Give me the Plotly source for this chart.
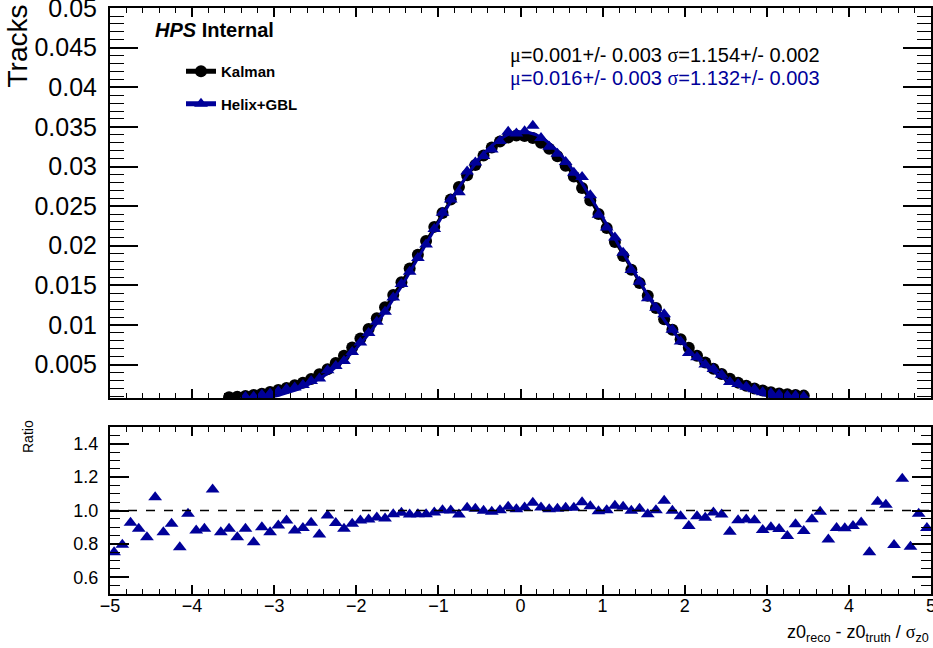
import numpy as np
from plotly.subplots import make_subplots
import plotly.graph_objects as go

# Dados (bins de 0.1)
x_kal = [-3.55, -3.45, -3.35, -3.25, -3.15, -3.05, -2.95, -2.85, -2.75, -2.65, -2.55, -2.45, -2.35, -2.25,
         -2.15, -2.05, -1.95, -1.85, -1.75, -1.65, -1.55, -1.45, -1.35, -1.25, -1.15, -1.05, -0.95, -0.85,
         -0.75, -0.65, -0.55, -0.45, -0.35, -0.25, -0.15, -0.05, 0.05, 0.15, 0.25, 0.35, 0.45, 0.55, 0.65,
         0.75, 0.85, 0.95, 1.05, 1.15, 1.25, 1.35, 1.45, 1.55, 1.65, 1.75, 1.85, 1.95, 2.05, 2.15, 2.25,
         2.35, 2.45, 2.55, 2.65, 2.75, 2.85, 2.95, 3.05, 3.15, 3.25, 3.35, 3.45]
y_kal = [0.00088, 0.00094, 0.00103, 0.00116, 0.00132, 0.00155, 0.00178, 0.00205, 0.00238, 0.00270, 0.00318,
         0.00378, 0.00440, 0.00520, 0.00612, 0.00715, 0.00828, 0.00950, 0.01085, 0.01225, 0.01378, 0.01540,
         0.01712, 0.01885, 0.02060, 0.02238, 0.02412, 0.02585, 0.02742, 0.02890, 0.03020, 0.03140, 0.03240,
         0.03315, 0.03365, 0.03390, 0.03385, 0.03360, 0.03300, 0.03225, 0.03130, 0.03010, 0.02875, 0.02730,
         0.02570, 0.02400, 0.02225, 0.02048, 0.01870, 0.01698, 0.01530, 0.01368, 0.01215, 0.01072, 0.00940,
         0.00820, 0.00712, 0.00612, 0.00525, 0.00448, 0.00382, 0.00322, 0.00272, 0.00232, 0.00198, 0.00172,
         0.00152, 0.00136, 0.00124, 0.00115, 0.00108]

x_gbl = x_kal[2:]
y_gbl = [0.00092, 0.00094, 0.00119, 0.00135, 0.00162, 0.00193, 0.00209, 0.00242, 0.00294, 0.00324, 0.00427,
         0.00481, 0.00545, 0.00658, 0.00778, 0.00899, 0.01039, 0.01166, 0.01348, 0.01518, 0.01671, 0.01844,
         0.02015, 0.02211, 0.02417, 0.02585, 0.02676, 0.02936, 0.03050, 0.03134, 0.03214, 0.03322, 0.03439,
         0.03417, 0.03446, 0.03515, 0.03359, 0.03251, 0.03161, 0.03058, 0.02921, 0.02867, 0.02637, 0.02390,
         0.02229, 0.02105, 0.01911, 0.01695, 0.01545, 0.01338, 0.01217, 0.01134, 0.00938, 0.00792, 0.00646,
         0.00591, 0.00502, 0.00443, 0.00373, 0.00281, 0.00256, 0.00219, 0.00187, 0.00152, 0.00137, 0.00121,
         0.00105, 0.00106, 0.00095]

x_ratio = [round(-4.95 + 0.1*i, 2) for i in range(100)]
y_ratio = [0.750, 0.795, 0.926, 0.890, 0.840, 1.080, 0.870, 0.920, 0.780, 0.980,
           0.880, 0.890, 1.125, 0.870, 0.890, 0.840, 0.890, 0.810, 0.900, 0.870,
           0.910, 0.940, 0.880, 0.895, 0.926, 0.857, 0.970, 0.925, 0.890, 0.920,
           0.940, 0.946, 0.958, 0.952, 0.978, 0.986, 0.976, 0.978, 0.978, 0.988,
           1.002, 1.000, 0.976, 1.016, 1.010, 0.998, 0.992, 1.002, 1.022, 1.008,
           1.018, 1.046, 1.018, 1.008, 1.010, 1.016, 1.016, 1.050, 1.026, 0.996,
           1.002, 1.028, 1.022, 0.998, 1.010, 0.978, 1.002, 1.058, 0.998, 0.966,
           0.907, 0.966, 0.956, 0.988, 0.976, 0.873, 0.942, 0.946, 0.942, 0.883,
           0.899, 0.889, 0.847, 0.918, 0.877, 0.948, 0.992, 0.827, 0.895, 0.893,
           0.907, 0.928, 0.750, 1.052, 1.034, 0.793, 1.190, 0.783, 0.980, 0.895]

# Ajustes gaussianos (parametros do fit)
fit_kal = dict(mu=0.001, sigma=1.154, amp=0.0338)
fit_gbl = dict(mu=0.016, sigma=1.132, amp=0.0344)
xfit = np.linspace(-3.5, 3.5, 301)

def gauss(x, p):
    return p['amp']*np.exp(-0.5*((x - p['mu'])/p['sigma'])**2)

preto = 'black'
azul = '#000099'
fonte = 'Liberation Sans, Arial, sans-serif'

fig = make_subplots(rows=2, cols=1, shared_xaxes=True)

fig.add_trace(go.Scatter(x=x_kal, y=y_kal, mode='markers', marker=dict(symbol='circle', size=12, color=preto),
                         showlegend=False), row=1, col=1)
fig.add_trace(go.Scatter(x=xfit, y=gauss(xfit, fit_kal), mode='lines', line=dict(color=preto, width=3),
                         showlegend=False), row=1, col=1)
fig.add_trace(go.Scatter(x=x_gbl, y=y_gbl, mode='markers', marker=dict(symbol='triangle-up', size=12, color=azul),
                         showlegend=False), row=1, col=1)
fig.add_trace(go.Scatter(x=xfit, y=gauss(xfit, fit_gbl), mode='lines', line=dict(color=azul, width=3),
                         showlegend=False), row=1, col=1)
# entradas de legenda
fig.add_trace(go.Scatter(x=[None], y=[None], mode='lines+markers', name='<b>Kalman</b>', legendgroup='a',
                         marker=dict(symbol='circle', size=12, color=preto), line=dict(color=preto, width=4)), row=1, col=1)
fig.add_trace(go.Scatter(x=[None], y=[None], mode='lines+markers', name='<b>Helix+GBL</b>', legendgroup='b',
                         marker=dict(symbol='triangle-up', size=12, color=azul), line=dict(color=azul, width=4)), row=1, col=1)

fig.add_trace(go.Scatter(x=x_ratio, y=y_ratio, mode='markers', marker=dict(symbol='triangle-up', size=12, color=azul),
                         showlegend=False), row=2, col=1)

fig.add_shape(type='line', xref='x2', yref='y2', x0=-5, x1=5, y0=1, y1=1,
              line=dict(color='black', width=1.5, dash='dash'))

W, H = 933, 648
xdom = [110/W, 931/W]
eixo_x = dict(range=[-5, 5.0001], dtick=1, tick0=0, ticks='inside', ticklen=9, tickwidth=1.5, tickcolor='black',
              showline=True, linewidth=2, linecolor='black', mirror='ticks', showgrid=False, zeroline=False,
              automargin=False, ticklabeloverflow='allow',
              minor=dict(dtick=0.2, ticks='inside', ticklen=5, tickwidth=1.2, tickcolor='black', showgrid=False),
              domain=xdom)
fig.update_layout(
    xaxis=dict(eixo_x, showticklabels=False),
    xaxis2=dict(eixo_x, tickfont=dict(size=18, color='black'), ticklabelstandoff=-6),
    yaxis=dict(range=[0.00078, 0.05001], dtick=0.005, tick0=0, ticks='inside', ticklen=28, tickwidth=1.5,
               tickcolor='black', showline=True, linewidth=2, linecolor='black', mirror='ticks',
               showgrid=False, zeroline=False, tickfont=dict(size=25, color='black'), ticklabelstandoff=6,
               automargin=False, ticklabeloverflow='allow',
               minor=dict(dtick=0.001, ticks='inside', ticklen=14, tickwidth=1.2, tickcolor='black', showgrid=False),
               domain=[1 - 398/H, 1 - 8/H]),
    yaxis2=dict(range=[0.5, 1.5], dtick=0.2, tick0=0, ticks='inside', ticklen=19, tickwidth=1.5,
                tickcolor='black', showline=True, linewidth=2, linecolor='black', mirror='ticks',
                showgrid=False, zeroline=False, tickformat='.1f', tickfont=dict(size=18, color='black'),
                ticklabelstandoff=6, automargin=False,
                minor=dict(dtick=0.05, ticks='inside', ticklen=10, tickwidth=1.2, tickcolor='black', showgrid=False),
                domain=[1 - 594/H, 1 - 427/H]),
)

fig.update_layout(legend=dict(x=181/W, y=1 - 55/H, xanchor='left', yanchor='top', bgcolor='rgba(0,0,0,0)',
                              font=dict(size=15, color='black', family=fonte), tracegroupgap=10,
                              itemsizing='constant', traceorder='grouped'))

anot = [
    dict(text='<b><i>HPS</i> Internal</b>', x=153/W, y=1 - 30/H, xanchor='left', yanchor='middle',
         font=dict(size=20, color='black')),
    dict(text='<span style="font-family:Liberation Serif">μ</span>=0.001+/- 0.003 '
              '<span style="font-family:Liberation Serif">σ</span>=1.154+/- 0.002',
         x=508/W, y=1 - 56/H, xanchor='left', yanchor='middle', font=dict(size=20, color='black')),
    dict(text='<span style="font-family:Liberation Serif">μ</span>=0.016+/- 0.003 '
              '<span style="font-family:Liberation Serif">σ</span>=1.132+/- 0.003',
         x=508/W, y=1 - 79/H, xanchor='left', yanchor='middle', font=dict(size=20, color=azul)),
    dict(text='Tracks', textangle=-90, x=17/W, y=1 - 3/H, xanchor='center', yanchor='top',
         font=dict(size=28, color='black')),
    dict(text='Ratio', textangle=-90, x=28/W, y=1 - 437/H, xanchor='center', yanchor='middle',
         font=dict(size=14, color='black')),
    dict(text='z0<sub>reco</sub> - z0<sub>truth</sub> / <span style="font-family:Liberation Serif">σ</span><sub>z0</sub>',
         x=931/W, y=1 - 647/H, xanchor='right', yanchor='bottom', font=dict(size=18, color='black')),
]
for a in anot:
    fig.add_annotation(xref='paper', yref='paper', showarrow=False, **a)

fig.update_layout(autosize=False, width=W, height=H, margin=dict(l=0, r=0, t=0, b=0),
                  plot_bgcolor='white', paper_bgcolor='white', font=dict(family=fonte, color='black'))
fig.write_html("out.html", config={'displayModeBar': False},
               post_script="document.body.style.margin='0px';")
